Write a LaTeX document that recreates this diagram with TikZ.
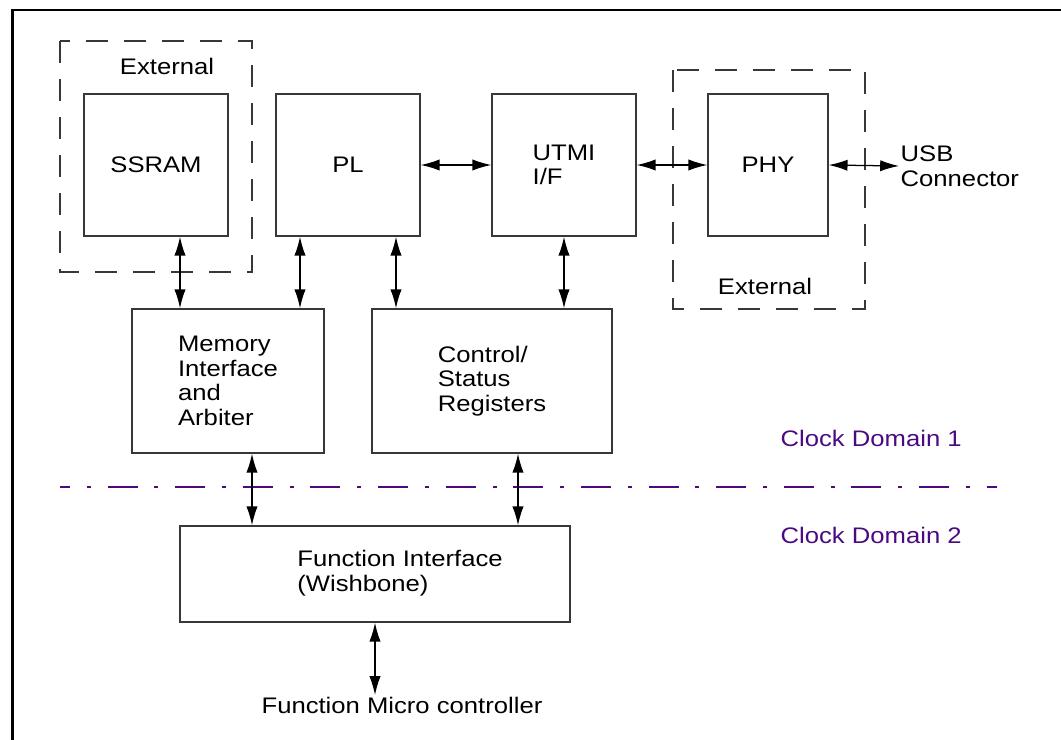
\documentclass[tikz,border=0pt]{standalone}
\usepackage{fontspec}
\setmainfont[FakeStretch=1.14]{Liberation Sans}
\usetikzlibrary{arrows.meta}
\definecolor{clockpurple}{RGB}{75,10,130}
\definecolor{linegray}{RGB}{55,55,55}
\begin{document}
\begin{tikzpicture}[x=0.025cm,y=-0.025cm,
    font=\fontsize{16}{17.5}\selectfont,
    blk/.style={draw=linegray,line width=1pt,inner sep=0pt,align=left},
    txt/.style={inner sep=1pt,align=left},
    extbox/.style={draw=linegray,line width=1pt,dash pattern=on 0.55cm off 0.4cm},
    bidir/.style={{Latex[length=0.47cm,width=0.28cm]}-{Latex[length=0.47cm,width=0.28cm]},line width=0.9pt},
    clk/.style={txt,text=clockpurple}]
  \useasboundingbox (0,0) rectangle (1061,740);
  \clip (0,0) rectangle (1061,740);

  % frame
  \draw[line width=2.1pt] (12.5,800) -- (12.5,10) -- (1100,10);

  % external parts
  \draw[extbox] (60,41) rectangle (252,272);
  \node[txt] (extssram) at (167,66) {External};
  \draw[extbox] (673,70) rectangle (865,309);
  \node[txt] (extphy) at (765,286) {External};

  % blocks
  \node[blk,minimum width=3.6cm,minimum height=3.55cm] (ssram) at (156,165) {SSRAM};
  \node[blk,minimum width=3.6cm,minimum height=3.55cm] (pl) at (348,165) {PL};
  \node[blk,minimum width=3.6cm,minimum height=3.55cm] (utmi) at (564,165) {UTMI\\I/F};
  \node[blk,minimum width=3cm,minimum height=3.55cm] (phy) at (768,165) {PHY};
  \node[blk,minimum width=4.8cm,minimum height=3.6cm] (mem) at (228,381) {Memory\\Interface\\and\\Arbiter};
  \node[blk,minimum width=6cm,minimum height=3.6cm] (csr) at (492,381) {Control/\\Status\\Registers};
  \node[blk,minimum width=9.75cm,minimum height=2.4cm] (fif) at (375,574) {};
  \node[txt] (fiftxt) at (400,573) {Function Interface\\(Wishbone)};
  \node[txt,anchor=west] (usb) at (899,166) {USB\\Connector};
  \node[txt] (micro) at (402,705) {Function Micro controller};

  % clock domains
  \draw[clockpurple,line width=1pt,dash pattern=on 0.75cm off 0.42cm on 0.1cm off 0.42cm,dash phase=0.5cm] (60,487) -- (997,487);
  \node[clk,anchor=west] (cd1) at (779,438) {Clock Domain 1};
  \node[clk,anchor=west] (cd2) at (779,535) {Clock Domain 2};

  % connections
  \draw[bidir] (pl.east) -- (utmi.west);
  \draw[bidir] (utmi.east) -- (phy.west);
  \draw[bidir] (phy.east) -- (usb.west);
  \draw[bidir] (180,0 |- ssram.south) -- (180,0 |- mem.north);
  \draw[bidir] (300,0 |- pl.south) -- (300,0 |- mem.north);
  \draw[bidir] (396,0 |- pl.south) -- (396,0 |- csr.north);
  \draw[bidir] (564,0 |- utmi.south) -- (564,0 |- csr.north);
  \draw[bidir] (252,0 |- mem.south) -- (252,0 |- fif.north);
  \draw[bidir] (518,0 |- csr.south) -- (518,0 |- fif.north);
  \draw[bidir] (375,0 |- fif.south) -- (375,0 |- micro.north);
\end{tikzpicture}
\end{document}
